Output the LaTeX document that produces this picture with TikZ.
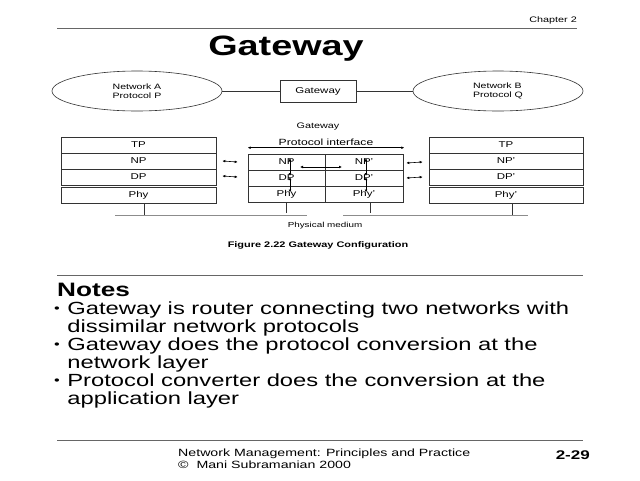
\documentclass[tikz,border=0pt]{standalone}
\usepackage{fontspec}
\setmainfont[FakeStretch=1.35]{Liberation Sans}
\usetikzlibrary{shapes.geometric,arrows.meta,calc}
\newcommand{\fsz}[1]{\fontsize{#1}{#1}\selectfont}
\newcommand{\smbul}{\makebox[0.75em][l]{\raisebox{0.12em}{\fontsize{12}{12}\selectfont\textbullet}}}
\begin{document}
\begin{tikzpicture}[x=1pt,y=-1pt,
  ln/.style={draw=black!80, line width=0.6pt},
  lay/.style={ln, rectangle, minimum height=16pt, inner sep=0pt, font=\fsz{8.5}},
  net/.style={ln, ellipse, minimum width=170pt, minimum height=40pt, inner sep=0pt, align=left, font=\fontsize{7.8}{9.5}\selectfont},
  lbl/.style={inner sep=0pt},
  arr/.style={line width=0.6pt, {Latex[length=3pt,width=2.8pt]}-{Latex[length=3pt,width=2.8pt]}},
  med/.style={draw=black!45, line width=0.9pt}]
\path[fill=white] (0,0) rectangle (640,480);
% header
\node[lbl, anchor=base east, font=\fsz{8}] (chap) at (577,22) {Chapter 2};
\draw[draw=black!60, line width=0.7pt] (57,28) -- (577,28);
\node[inner sep=0pt, anchor=base, font=\fsz{28}\bfseries] (title) at (286,55) {Gateway};
% top networks
\node[net] (ellA) at (137,91) {Network A\\Protocol P};
\node[ln, minimum width=76pt, minimum height=22pt, inner sep=0pt, font=\fsz{8.5}] (gw) at (318,91) {Gateway};
\node[net] (ellB) at (498,91) {Network B\\Protocol Q};
\draw[ln] (ellA) -- (gw);
\draw[ln] (gw) -- (ellB);
\node[lbl, font=\fsz{8}] (gwlbl) at (318,127) {Gateway};
% left stack
\node[lay, minimum width=155pt] (lTP) at (138.5,145) {TP};
\node[lay, minimum width=155pt] (lNP) at (138.5,161) {NP};
\node[lay, minimum width=155pt] (lDP) at (138.5,177) {DP};
\node[lay, minimum width=155pt] (lPhy) at (138.5,195) {Phy};
% right stack
\node[lay, minimum width=154pt] (rTP) at (506,145) {TP};
\node[lay, minimum width=154pt] (rNP) at (506,161) {NP'};
\node[lay, minimum width=154pt] (rDP) at (506,177) {DP'};
\node[lay, minimum width=154pt] (rPhy) at (506,195) {Phy'};
% gateway stack
\node[lay, minimum width=77pt] (gNP) at (286.5,162) {NP};
\node[lay, minimum width=77pt] (gDP) at (286.5,178) {DP};
\node[lay, minimum width=77pt] (gPhy) at (286.5,194.5) {Phy};
\node[lay, minimum width=78pt] (gNPp) at (364,162) {NP'};
\node[lay, minimum width=78pt] (gDPp) at (364,178) {DP'};
\node[lay, minimum width=78pt] (gPhyp) at (364,194.5) {Phy'};
% protocol interface
\node[lbl, font=\fsz{9}] (pilbl) at (326,142) {Protocol interface};
\draw[arr] ($(gNP.north west)+(0,-6)$) -- ($(gNPp.north east)+(1,-6)$);
% peer arrows
\draw[arr] ($(lNP.east)+(6,0)$) -- ($(gNP.west)+(-10,0)$);
\draw[arr] ($(lDP.east)+(6,-1)$) -- ($(gDP.west)+(-10,-1)$);
\draw[arr] ($(gNPp.east)+(3,1)$) -- ($(rNP.west)+(-6,1)$);
\draw[arr] ($(gDPp.east)+(3,0)$) -- ($(rDP.west)+(-6,0)$);
% internal arrows
\draw[arr] ($(gNP.center)+(3.5,-4)$) -- ($(gDP.center)+(3.5,-2)$);
\draw[arr] ($(gDP.center)+(3.5,-1)$) -- ($(gPhy.center)+(3.5,-2)$);
\draw[arr] ($(gNPp.center)+(2,-4)$) -- ($(gDPp.center)+(2,-2)$);
\draw[arr] ($(gDPp.center)+(2,-1)$) -- ($(gPhyp.center)+(2,-2)$);
\draw[arr] ($(gNP.center)+(13.5,5)$) -- ($(gNPp.center)+(-22,5)$);
% physical medium
\coordinate (mL1) at (115,215);
\coordinate (mL2) at (307,215);
\coordinate (mR1) at (343,215);
\coordinate (mR2) at (528,215);
\draw[med] (mL1) -- (mL2);
\draw[med] (mR1) -- (mR2);
\draw[ln] ($(lPhy.south)+(5.5,0)$) -- ($(lPhy.south)+(5.5,12)$);
\draw[ln] (gPhy.south) -- ($(gPhy.south)+(0,10.5)$);
\draw[ln] ($(gPhyp.south)+(6,0)$) -- ($(gPhyp.south)+(6,10.5)$);
\draw[ln] ($(rPhy.south)+(6,0)$) -- ($(rPhy.south)+(6,12)$);
\node[lbl, font=\fsz{7.3}] (pmlbl) at (325,226) {Physical medium};
\node[lbl, font=\fsz{8.1}\bfseries] (cap) at (318,245) {Figure 2.22 Gateway Configuration};
% notes
\draw[draw=black!60, line width=0.7pt] (57,275) -- (583,275);
\node[inner sep=0pt, anchor=base west, font=\fsz{19.4}\bfseries] (notes) at (57,296) {Notes};
\node[inner sep=0pt, anchor=north west, align=left, font=\fontsize{17.6}{18}\selectfont] (bullets) at (54,302)
{\smbul Gateway is router connecting two networks with\\
\hspace*{0.75em}dissimilar network protocols\\
\smbul Gateway does the protocol conversion at the\\
\hspace*{0.75em}network layer\\
\smbul Protocol converter does the conversion at the\\
\hspace*{0.75em}application layer};
% footer
\draw[draw=black!60, line width=0.7pt] (57,440) -- (583,440);
\node[inner sep=0pt, anchor=base west, font=\fsz{10.5}] (foot1) at (178,456) {Network Management: Principles and Practice};
\node[inner sep=0pt, anchor=base west, font=\fsz{10.5}] (foot2) at (178,468) {\textcopyright\ \ Mani Subramanian 2000};
\node[inner sep=0pt, anchor=base east, font=\fsz{12.6}\bfseries] (pg) at (590,459) {2-29};
\end{tikzpicture}
\end{document}
